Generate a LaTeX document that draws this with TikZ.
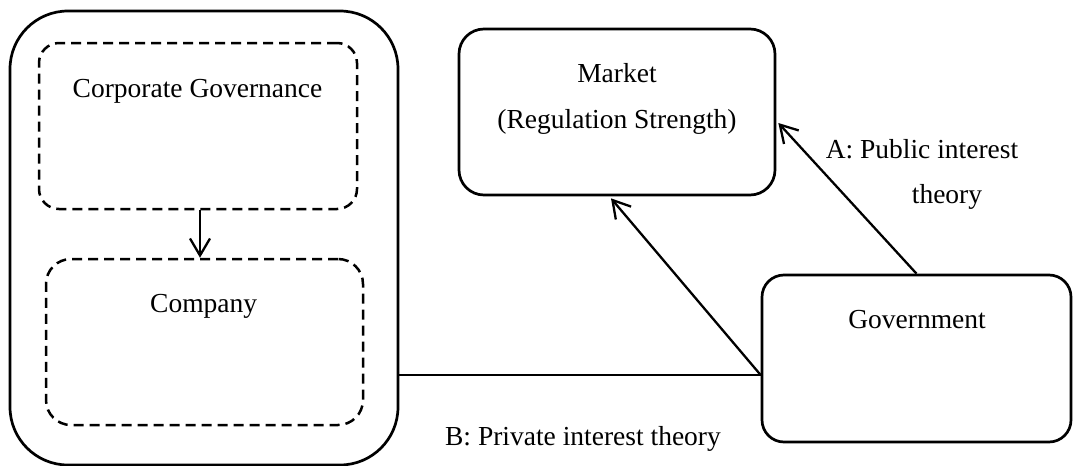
\documentclass[tikz,border=0pt]{standalone}
\usepackage{fontspec}
\setmainfont{Liberation Serif}
\usetikzlibrary{arrows.meta,calc}

\tikzset{
  box/.style={draw, line width=2.7pt, rounded corners=#1, inner sep=0pt},
  dashbox/.style={draw, line width=2.5pt, dash pattern=on 10pt off 6pt, rounded corners=#1, inner sep=0pt},
  txt/.style={font=\fontsize{27.5}{33}\selectfont, anchor=base, inner sep=0pt},
  link/.style={line width=2.3pt, -{Straight Barb[length=17pt,width=20pt,line width=2.3pt]}},
  plain/.style={line width=1.6pt}
}

\begin{document}
\begin{tikzpicture}[x=1pt,y=-1pt]
  \useasboundingbox (0,0) rectangle (1074,466);

  % left group: company with its governance
  \node[box=58pt, minimum width=388pt, minimum height=454pt] (outer) at (204,238) {};
  \node[dashbox=20pt, minimum width=318pt, minimum height=166pt] (cg) at (198,126) {};
  \node[dashbox=25pt, minimum width=317pt, minimum height=166pt] (co) at (204.5,342) {};
  \node[txt] (cgtext) at (197.5,97) {Corporate Governance};
  \node[txt] (cotext) at (203.7,312) {Company};

  % market and government
  \node[box=25pt, minimum width=316pt, minimum height=166pt] (market) at (617,112) {};
  \node[txt] (mtext) at (617,82) {Market};
  \node[txt] (rtext) at (617,128) {(Regulation Strength)};

  \node[box=22pt, minimum width=309pt, minimum height=167pt] (gov) at (916.5,358.5) {};
  \node[txt] (gtext) at (917,328) {Government};

  % connector labels
  \node[txt] (alabel) at (922,158) {A: Public interest};
  \node[txt] (alabel2) at (947,203) {theory};
  \node[txt] (blabel) at (583,445) {B: Private interest theory};

  % connectors
  \draw[link] ([xshift=2pt]cg.south) -- ([xshift=2pt]cg.south |- co.north);
  \draw[link] (gov.north) -- ([xshift=2pt,yshift=-11pt]market.east);
  \coordinate (gj) at ([yshift=-16.5pt]gov.west);
  \draw[link] (gj) -- ([xshift=-6pt,yshift=-2pt]market.south);
  \draw[plain] (gj) -- (gj -| outer.east);
\end{tikzpicture}
\end{document}
